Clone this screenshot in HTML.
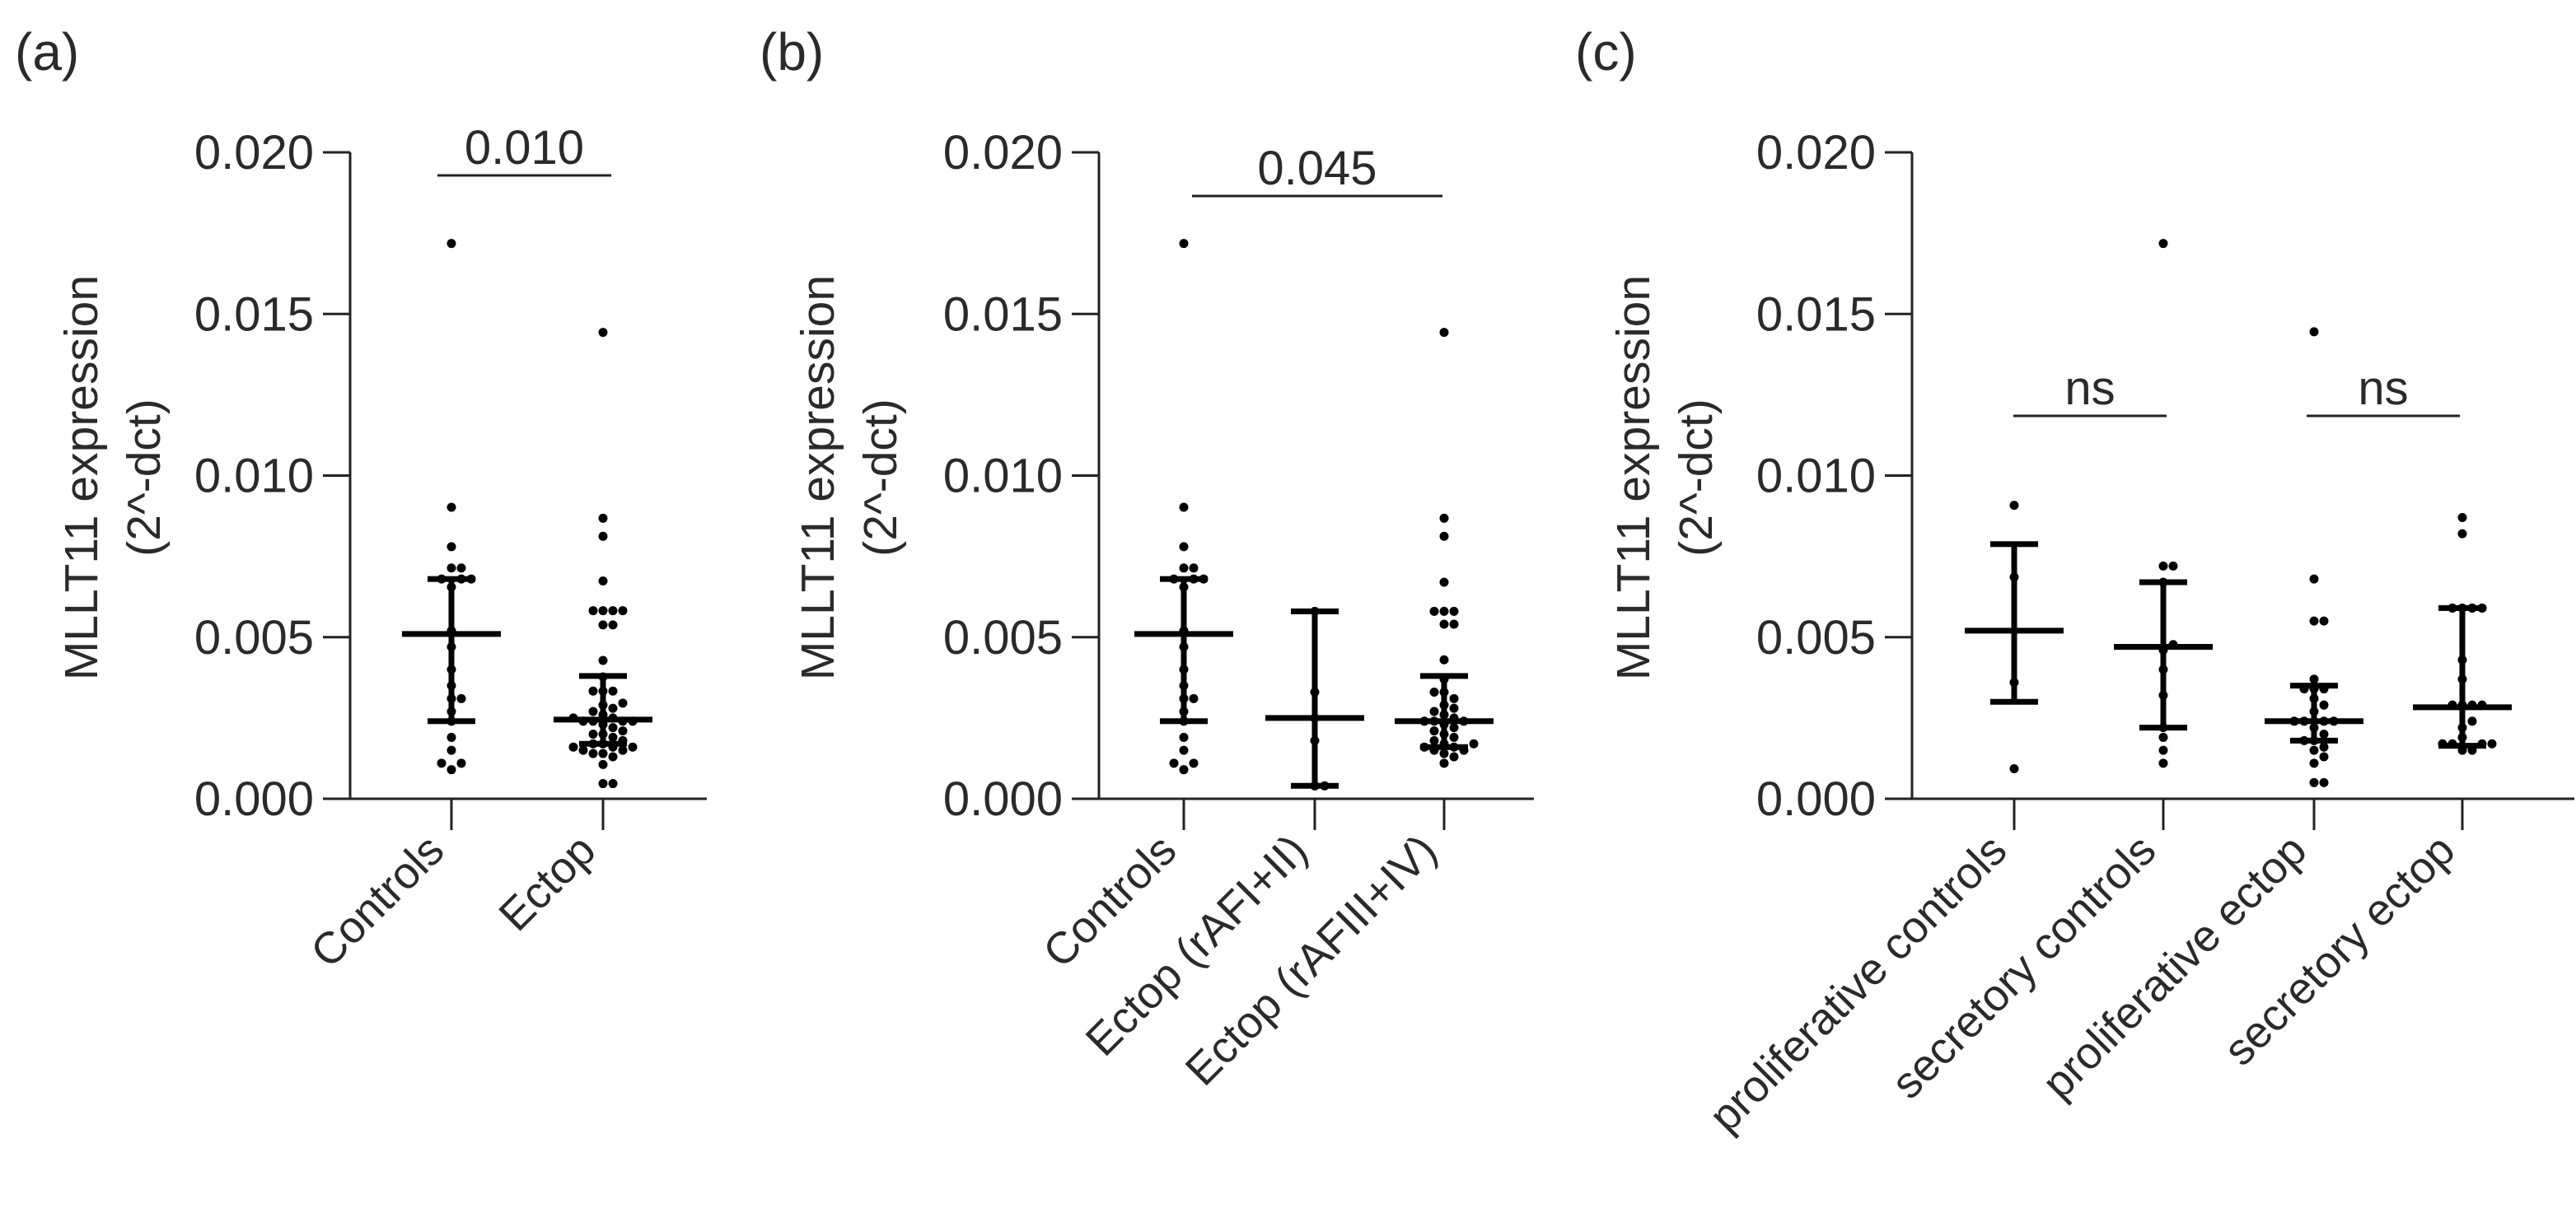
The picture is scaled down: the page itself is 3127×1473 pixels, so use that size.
<!DOCTYPE html>
<html><head><meta charset="utf-8"><style>
html,body{margin:0;padding:0;background:#fff}
svg{display:block}
text{font-family:"Liberation Sans",Arial,sans-serif;fill:#2a2a2a}
</style></head><body>
<svg id="fig" width="3127" height="1473" viewBox="0 0 3127 1473" xmlns="http://www.w3.org/2000/svg"></svg>
<script>
// ---- data ----
const yTicks = [0, 0.005, 0.010, 0.015, 0.020];
const yTickLabels = ["0.000", "0.005", "0.010", "0.015", "0.020"];

const catsA = ["Controls", "Ectop"];
const catsB = ["Controls", "Ectop (rAFI+II)", "Ectop (rAFIII+IV)"];
const catsC = ["proliferative controls", "secretory controls", "proliferative ectop", "secretory ectop"];

const controls = [0.01718,0.00902,0.0078,0.00714,0.00714,0.0068,0.0068,0.0068,0.00655,0.0052,0.0047,0.0040,0.0035,0.0031,0.0031,0.0027,0.0024,0.0019,0.0015,0.0011,0.0011,0.0009];
const ectop = [0.01443,0.00868,0.00812,0.00674,0.00582,0.00582,0.00582,0.00582,0.00538,0.00538,0.00428,0.00377,0.00333,0.00333,0.00333,0.00296,0.0029,0.0028,0.0027,0.0026,0.0025,0.0025,0.0024,0.0024,0.0024,0.0024,0.0023,0.0022,0.0021,0.0020,0.0020,0.0019,0.0018,0.0017,0.0017,0.0016,0.0016,0.0016,0.0015,0.0015,0.0014,0.0014,0.0013,0.00106,0.00047,0.00047];
const ectopI = [0.0058,0.0033,0.0025,0.0018,0.0004,0.0004];
const ectopIII = [0.01443,0.00868,0.00812,0.0067,0.0058,0.0058,0.0058,0.0054,0.0054,0.0043,0.0037,0.0033,0.0033,0.0031,0.0029,0.0028,0.0027,0.0026,0.0025,0.0024,0.0024,0.0024,0.0023,0.0022,0.0021,0.0020,0.0019,0.0018,0.0017,0.0017,0.0016,0.0016,0.0015,0.0015,0.0014,0.0013,0.0011];
const profCtrl = [0.00908,0.00686,0.0036,0.00093];
const secCtrl = [0.01718,0.0072,0.0072,0.0067,0.00477,0.0046,0.0040,0.0032,0.0022,0.0019,0.0015,0.0011];
const profEct = [0.01445,0.0068,0.0055,0.0055,0.0037,0.0034,0.0034,0.0034,0.0031,0.0029,0.0027,0.0024,0.0024,0.0024,0.0024,0.0022,0.0020,0.0018,0.0018,0.0016,0.0015,0.0013,0.0011,0.0005,0.0005];
const secEct = [0.0087,0.0082,0.0059,0.0059,0.0059,0.0059,0.0043,0.0037,0.0029,0.0029,0.0029,0.0029,0.0024,0.0022,0.0019,0.0017,0.0017,0.0017,0.0017,0.0015,0.0015];

const centersA = [0.0051, 0.00245];
const lowsA = [0.0024, 0.0017];
const highsA = [0.0068, 0.0038];
const centersB = [0.0051, 0.0025, 0.0024];
const lowsB = [0.0024, 0.0004, 0.0016];
const highsB = [0.0068, 0.0058, 0.0038];
const centersC = [0.0052, 0.0047, 0.0024, 0.00283];
const lowsC = [0.0030, 0.0022, 0.0018, 0.00164];
const highsC = [0.00788, 0.0067, 0.0035, 0.0059];

const sigA = ["0.010"];
const sigB = ["0.045"];
const sigC = ["ns", "ns"];

// ---- drawing ----
const NS = "http://www.w3.org/2000/svg";
const svg = document.getElementById("fig");
function mk(tag, attrs, parent) {
  const e = document.createElementNS(NS, tag);
  for (const k in attrs) e.setAttribute(k, attrs[k]);
  (parent || svg).appendChild(e);
  return e;
}
const Y0 = 970, Y1 = 185;
function yScale(v) { return Y0 - (v / 0.020) * (Y0 - Y1); }

function swarm(vals, cx, r) {
  const placed = [];
  const sorted = vals.slice().sort((a, b) => a - b);
  const step = 2 * r + 1;
  sorted.forEach(v => {
    const y = yScale(v);
    let k = 0, x = cx;
    while (true) {
      const off = (k === 0) ? 0 : Math.ceil(k / 2) * step * (k % 2 ? 1 : -1);
      x = cx + off;
      const clash = placed.some(p => Math.hypot(p[0] - x, p[1] - y) < 2 * r - 0.5);
      if (!clash) break;
      k++;
    }
    placed.push([x, y]);
  });
  return placed;
}

function panel(cfg) {
  const g = mk("g", {});
  
  
  const lt = mk("text", {x: cfg.letterX, y: 85, "font-size": 64, fill: "#111"}, g);
  lt.textContent = cfg.letter;
  
  
  const ya = mk("line", {x1: cfg.ax, y1: Y1, x2: cfg.ax, y2: Y0, stroke: "#222", "stroke-width": 3}, g);
  
  
  yTicks.forEach((t, i) => {
    const y = yScale(t);
    mk("line", {x1: cfg.ax - 33, y1: y, x2: cfg.ax, y2: y, stroke: "#222", "stroke-width": 3}, g);
    const tl = mk("text", {x: cfg.ax - 44, y: y + 20, "font-size": 58, "text-anchor": "end"}, g);
    tl.textContent = yTickLabels[i];
    
    
  });
  const yt = mk("text", {transform: `translate(${cfg.titleX},580) rotate(-90)`, "font-size": 57, "text-anchor": "middle"}, g);
  
  
  const t1 = mk("tspan", {x: 0, y: 0}, yt); t1.textContent = "MLLT11 expression";
  const t2 = mk("tspan", {x: 0, y: 76}, yt); t2.textContent = "(2^-dct)";
  const xa = mk("line", {x1: cfg.ax - 1, y1: Y0, x2: cfg.axEnd, y2: Y0, stroke: "#222", "stroke-width": 3}, g);
  
  
  cfg.cats.forEach((c, i) => {
    const x = cfg.xs[i];
    mk("line", {x1: x, y1: Y0, x2: x, y2: 1008, stroke: "#222", "stroke-width": 3}, g);
    const xl = mk("text", {transform: `translate(${x - 6},1036) rotate(-45)`, "font-size": 54, "text-anchor": "end"}, g);
    xl.textContent = c;
    
    
    swarm(cfg.series[i], x, 5.5).forEach(p => {
      const d = mk("circle", {cx: p[0], cy: p[1], r: 5.5, fill: "#000"}, g);
      
      
    });
    const eb = mk("g", {stroke: "#000", "stroke-width": 7}, g);
    
    
    mk("line", {x1: x, y1: yScale(cfg.highs[i]), x2: x, y2: yScale(cfg.lows[i])}, eb);
    mk("line", {x1: x - 29, y1: yScale(cfg.highs[i]), x2: x + 29, y2: yScale(cfg.highs[i])}, eb);
    mk("line", {x1: x - 29, y1: yScale(cfg.lows[i]), x2: x + 29, y2: yScale(cfg.lows[i])}, eb);
    mk("line", {x1: x - 60, y1: yScale(cfg.centers[i]), x2: x + 60, y2: yScale(cfg.centers[i])}, eb);
  });
  cfg.sig.forEach((s, i) => {
    const b = cfg.sigBars[i];
    const sl = mk("line", {x1: b[0], y1: b[2], x2: b[1], y2: b[2], stroke: "#222", "stroke-width": 3}, g);
    
    
    const st = mk("text", {x: (b[0] + b[1]) / 2, y: b[2] - 14, "font-size": 58, "text-anchor": "middle"}, g);
    st.textContent = s;
    
    
  });
}

panel({name: "panel-a", letter: "(a)", letterX: 18, ax: 425, axEnd: 858, titleX: 118,
  cats: catsA, xs: [548, 732], series: [controls, ectop],
  centers: centersA, lows: lowsA, highs: highsA,
  sig: sigA, sigBars: [[531, 742, 213]]});
panel({name: "panel-b", letter: "(b)", letterX: 922, ax: 1334, axEnd: 1862, titleX: 1012,
  cats: catsB, xs: [1437, 1596, 1753], series: [controls, ectopI, ectopIII],
  centers: centersB, lows: lowsB, highs: highsB,
  sig: sigB, sigBars: [[1447, 1751, 238]]});
panel({name: "panel-c", letter: "(c)", letterX: 1912, ax: 2321, axEnd: 3125, titleX: 2002,
  cats: catsC, xs: [2445, 2626, 2809, 2989], series: [profCtrl, secCtrl, profEct, secEct],
  centers: centersC, lows: lowsC, highs: highsC,
  sig: sigC, sigBars: [[2444, 2630, 505], [2800, 2986, 505]]});
</script>
</body></html>
